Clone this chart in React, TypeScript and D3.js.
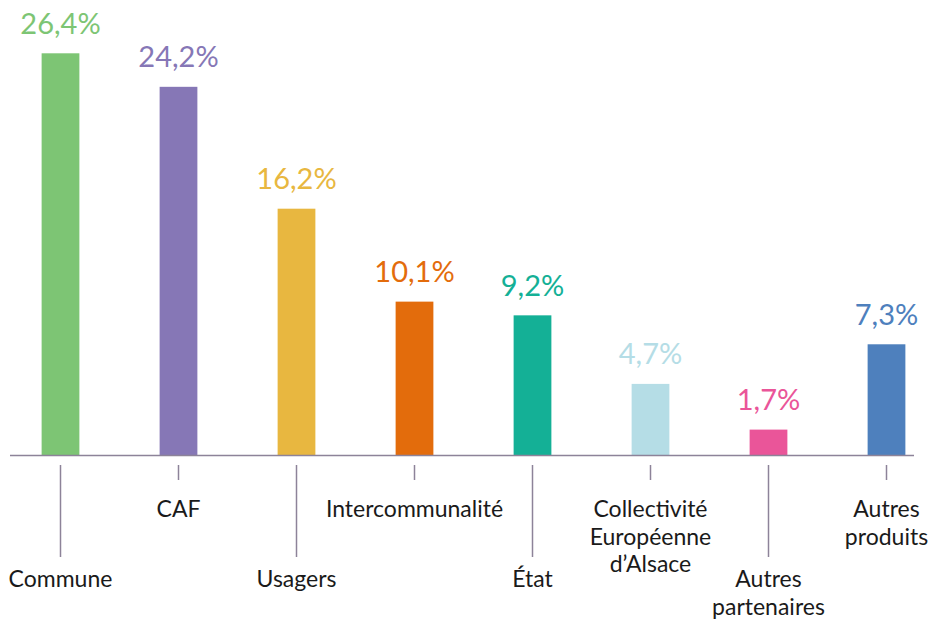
import * as d3 from 'd3';
import {useEffect, useRef} from 'react';

const categories = [
    'Commune',
    'CAF',
    'Usagers',
    'Intercommunalité',
    'État',
    'Collectivité\nEuropéenne\nd’Alsace',
    'Autres\npartenaires',
    'Autres\nproduits',
];
const values = [26.4, 24.2, 16.2, 10.1, 9.2, 4.7, 1.7, 7.3];
const colors = ['#7dc574', '#8677b6', '#e8b740', '#e36c0c', '#14b096', '#b5dde6', '#ea5599', '#4e80bd'];

const fmt = (v: number) => `${v.toFixed(1).replace('.', ',')}%`;

export default function App() {
    const ref = useRef<SVGSVGElement>(null);
    const width = 930;
    const height = 620;
    const baseline = 455.5;

    useEffect(() => {
        const svg = d3.select(ref.current);
        svg.selectAll('*').remove();

        const x = d3.scaleBand<string>().domain(categories).range([1.5, 945.5]).paddingInner(0.68).paddingOuter(0.34);
        const y = d3.scaleLinear().domain([0, 26.4]).range([baseline, 53.3]);
        const cx = (c: string) => (x(c) ?? 0) + x.bandwidth() / 2;

        svg.selectAll('rect.bar')
            .data(categories)
            .join('rect')
            .attr('class', 'bar')
            .attr('x', (d) => x(d) ?? 0)
            .attr('width', x.bandwidth())
            .attr('y', (_, i) => y(values[i]))
            .attr('height', (_, i) => baseline - y(values[i]))
            .attr('fill', (_, i) => colors[i]);

        svg.selectAll('text.val')
            .data(categories)
            .join('text')
            .attr('class', 'val')
            .attr('x', (d) => cx(d))
            .attr('y', (_, i) => y(values[i]) - 19.5)
            .attr('text-anchor', 'middle')
            .attr('font-family', 'Lato, sans-serif')
            .attr('font-size', 29)
            .attr('fill', (_, i) => colors[i])
            .text((_, i) => fmt(values[i]));

        svg.append('line')
            .attr('x1', 10)
            .attr('x2', 914)
            .attr('y1', baseline)
            .attr('y2', baseline)
            .attr('stroke', '#8d8399')
            .attr('stroke-width', 1.5);

        const g = svg.selectAll('g.cat').data(categories).join('g').attr('class', 'cat');

        g.append('line')
            .attr('x1', (d) => cx(d))
            .attr('x2', (d) => cx(d))
            .attr('y1', 465)
            .attr('y2', (_, i) => (i % 2 === 0 ? 557 : 480))
            .attr('stroke', '#8d8399')
            .attr('stroke-width', 1.5);

        g.append('text')
            .attr('text-anchor', 'middle')
            .attr('font-family', 'Lato, sans-serif')
            .attr('font-size', 23)
            .attr('fill', '#1a1a1a')
            .each(function (d, i) {
                const top = i % 2 === 0 ? 587 : 517;
                d3.select(this)
                    .selectAll('tspan')
                    .data(d.split('\n'))
                    .join('tspan')
                    .attr('x', cx(d))
                    .attr('y', (_, j) => top + j * 27.5)
                    .text((t) => t);
            });
    }, []);

    return (
        <svg
            ref={ref}
            width={width}
            height={height}
            style={{position: 'absolute', left: 0, top: 0, background: '#fff'}}
        ></svg>
    );
}
